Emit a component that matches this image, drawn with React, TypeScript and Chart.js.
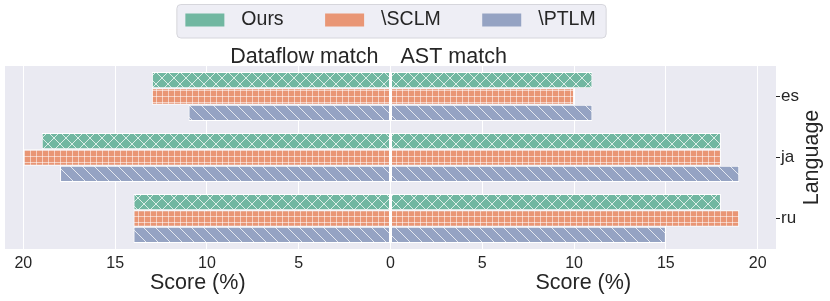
import React, { useEffect, useRef } from 'react';
import { Chart, registerables } from 'chart.js';

Chart.register(...registerables);

// ---------- data ----------
const languages = ['es', 'ja', 'ru'];
const seriesNames = ['Ours', '\\SCLM', '\\PTLM'];
const dataflowOurs = [13, 19, 14];
const dataflowSCLM = [13, 20, 14];
const dataflowPTLM = [11, 18, 14];
const astOurs = [11, 18, 18];
const astSCLM = [10, 18, 19];
const astPTLM = [11, 19, 15];
const tickValues = [0, 5, 10, 15, 20];
const panelTitles = ['Dataflow match', 'AST match'];
const xAxisLabel = 'Score (%)';
const yAxisLabel = 'Language';

// ---------- style ----------
const FONT = '"Liberation Sans", Arial, sans-serif';
const TEXT = '#262626';
const BG = '#eaeaf2';
const COLORS = ['#71b7a1', '#e99675', '#95a3c3'];
const HATCHES = ['x', '+', '\\'];

function makePattern(ctx: CanvasRenderingContext2D, color: string, hatch: string) {
  const size = hatch === '+' ? 6 : 12;
  const c = document.createElement('canvas');
  c.width = size;
  c.height = size;
  const g = c.getContext('2d') as CanvasRenderingContext2D;
  g.fillStyle = color;
  g.fillRect(0, 0, size, size);
  g.lineWidth = 1;
  g.beginPath();
  if (hatch === 'x' || hatch === '\\') {
    for (const k of [-size, 0, size]) {
      g.moveTo(k, 0);
      g.lineTo(k + size, size);
    }
  }
  if (hatch === 'x') {
    for (const k of [-size, 0, size]) {
      g.moveTo(k, size);
      g.lineTo(k + size, 0);
    }
  }
  if (hatch === '+') {
    g.moveTo(0.5, 0);
    g.lineTo(0.5, size);
    g.moveTo(0, 0.5);
    g.lineTo(size, 0.5);
  }
  g.strokeStyle = hatch === '+' ? 'rgba(255,255,255,0.55)' : 'rgba(255,255,255,0.75)';
  g.stroke();
  return ctx.createPattern(c, 'repeat') as CanvasPattern;
}

const decorPlugin = {
  id: 'decor',
  beforeDraw(chart: any) {
    const { ctx, chartArea: a } = chart;
    ctx.save();
    ctx.fillStyle = BG;
    ctx.fillRect(a.left, a.top, a.right - a.left, a.bottom - a.top);
    ctx.restore();
  },
  afterDraw(chart: any) {
    const { ctx, chartArea: a } = chart;
    const x = chart.scales.x;
    const zero = x.getPixelForValue(0);
    ctx.save();
    ctx.fillStyle = TEXT;
    // panel titles
    ctx.font = `21.5px ${FONT}`;
    ctx.textBaseline = 'alphabetic';
    ctx.textAlign = 'right';
    ctx.fillText(panelTitles[0], zero - 12, a.top - 3);
    ctx.textAlign = 'left';
    ctx.fillText(panelTitles[1], zero + 10, a.top - 3);
    // x-axis labels
    ctx.textAlign = 'center';
    ctx.textBaseline = 'middle';
    ctx.fillText(xAxisLabel, (a.left + zero) / 2, a.bottom + 34);
    ctx.fillText(xAxisLabel, (zero + a.right) / 2, a.bottom + 34);
    // y-axis label
    ctx.save();
    ctx.translate(a.right + 36, (a.top + a.bottom) / 2);
    ctx.rotate(-Math.PI / 2);
    ctx.fillText(yAxisLabel, 0, 0);
    ctx.restore();

    // legend
    ctx.font = `19.5px ${FONT}`;
    const patchW = 39;
    const patchH = 13;
    const gap = 17;
    const colGap = 41.5;
    const widths = seriesNames.map((n) => ctx.measureText(n).width);
    const total = widths.reduce((s, w) => s + patchW + gap + w, 0) + colGap * (seriesNames.length - 1);
    const cx = (a.left + a.right) / 2;
    let lx = cx - total / 2;
    const cy = 20;
    const bx = lx - 9;
    const bw = total + 19;
    const by = 4.5;
    const bh = 33.5;
    ctx.beginPath();
    ctx.roundRect(bx + 0.5, by, bw, bh, 4);
    ctx.fillStyle = '#eeeef5';
    ctx.fill();
    ctx.strokeStyle = '#d6d6dc';
    ctx.lineWidth = 1;
    ctx.stroke();
    ctx.textAlign = 'left';
    ctx.textBaseline = 'middle';
    seriesNames.forEach((name, i) => {
      ctx.fillStyle = COLORS[i];
      ctx.fillRect(lx, cy - patchH / 2, patchW, patchH);
      ctx.fillStyle = TEXT;
      ctx.fillText(name, lx + patchW + gap, cy);
      lx += patchW + gap + widths[i] + colGap;
    });
    ctx.restore();
  },
};

export default function App() {
  const ref = useRef<HTMLCanvasElement | null>(null);

  useEffect(() => {
    const canvas = ref.current;
    if (!canvas) return;
    const ctx = canvas.getContext('2d') as CanvasRenderingContext2D;
    const patterns = COLORS.map((c, i) => makePattern(ctx, c, HATCHES[i]));
    const leftSets = [dataflowOurs, dataflowSCLM, dataflowPTLM];
    const rightSets = [astOurs, astSCLM, astPTLM];
    const xTicks = [...tickValues.slice(1).reverse().map((v) => -v), ...tickValues];

    const common = (i: number) => ({
      stack: 's' + i,
      backgroundColor: patterns[i],
      borderColor: '#ffffff',
      borderWidth: 1,
      borderSkipped: false,
      categoryPercentage: 0.8,
      barPercentage: 1.0,
    });

    const chart = new Chart(canvas, {
      type: 'bar',
      data: {
        labels: languages,
        datasets: [
          ...leftSets.map((vals, i) => ({
            label: seriesNames[i] + ' – ' + panelTitles[0],
            data: vals.map((v) => -v),
            ...common(i),
          })),
          ...rightSets.map((vals, i) => ({
            label: seriesNames[i] + ' – ' + panelTitles[1],
            data: vals,
            ...common(i),
          })),
        ],
      } as any,
      options: {
        indexAxis: 'y',
        responsive: false,
        animation: false,
        layout: { padding: { left: 5, top: 66, right: 0, bottom: 0 } },
        font: { family: FONT },
        plugins: {
          legend: { display: false },
          tooltip: { enabled: false },
          title: { display: false },
        },
        scales: {
          x: {
            type: 'linear',
            min: -21,
            max: 21,
            stacked: true,
            afterBuildTicks: (s: any) => {
              s.ticks = xTicks.map((v) => ({ value: v }));
            },
            afterFit: (s: any) => {
              s.height = 52;
            },
            grid: { color: '#ffffff', lineWidth: 1, drawTicks: false },
            border: { display: false },
            ticks: {
              callback: (v: any) => String(Math.abs(Number(v))),
              font: { size: 16, family: FONT },
              color: TEXT,
              padding: 5,
              maxRotation: 0,
              autoSkip: false,
            },
          },
          y: {
            type: 'category',
            position: 'right',
            afterFit: (s: any) => {
              s.width = 54;
            },
            grid: {
              display: true,
              offset: false,
              drawOnChartArea: false,
              drawTicks: true,
              tickLength: 4,
              tickColor: TEXT,
              tickWidth: 1,
            },
            border: { display: false },
            ticks: { font: { size: 17, family: FONT }, color: TEXT, padding: 1 },
          },
        },
      } as any,
      plugins: [decorPlugin],
    });
    return () => chart.destroy();
  }, []);

  return (
    <div style={{ position: 'absolute', left: 0, top: 0, width: 830, height: 301, background: '#ffffff' }}>
      <canvas ref={ref} width={830} height={301} style={{ width: 830, height: 301, display: 'block' }} />
    </div>
  );
}
